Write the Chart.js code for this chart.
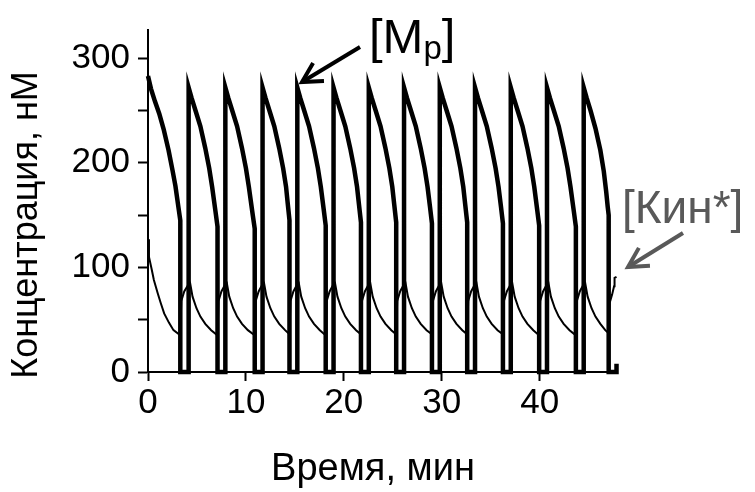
<!DOCTYPE html>
<html>
<head>
<meta charset="utf-8">
<script src="https://cdn.jsdelivr.net/npm/chart.js@4.4.1/dist/chart.umd.min.js"></script>
<style>
  html, body { margin: 0; padding: 0; background: #fff; }
  #wrap { width: 755px; height: 492px; }
</style>
</head>
<body>
<div id="wrap"><canvas id="chart" width="755" height="492"></canvas></div>
<script>
// [Mp] — thick sawtooth, time in minutes, concentration in nM
const mpTime = [
  0, 0.3, 0.7, 1.15, 1.6, 2.1, 2.5, 2.8, 3.1, 3.3, 3.3, 4.15,
  4.15, 4.45, 4.85, 5.35, 5.85, 6.25, 6.55, 6.9, 7.1, 7.1, 7.9,
  7.9, 8.2, 8.6, 9.1, 9.6, 10.0, 10.3, 10.7, 10.9, 10.9, 11.7,
  11.7, 12.0, 12.4, 12.9, 13.4, 13.8, 14.1, 14.25, 14.45, 14.45, 15.25,
  15.25, 15.55, 15.95, 16.45, 16.95, 17.35, 17.65, 17.95, 18.15, 18.15, 18.95,
  18.95, 19.25, 19.65, 20.15, 20.65, 21.05, 21.35, 21.55, 21.75, 21.75, 22.55,
  22.55, 22.85, 23.25, 23.75, 24.25, 24.65, 24.95, 25.15, 25.35, 25.35, 26.15,
  26.15, 26.45, 26.85, 27.35, 27.85, 28.25, 28.55, 28.8, 29.0, 29.0, 29.8,
  29.8, 30.1, 30.5, 31.0, 31.5, 31.9, 32.2, 32.4, 32.6, 32.6, 33.4,
  33.4, 33.7, 34.1, 34.6, 35.1, 35.5, 35.8, 36.05, 36.25, 36.25, 37.05,
  37.05, 37.35, 37.75, 38.25, 38.75, 39.15, 39.45, 39.75, 39.95, 39.95, 40.75,
  40.75, 41.05, 41.45, 41.95, 42.45, 42.85, 43.15, 43.5, 43.7, 43.7, 44.5,
  44.5, 44.8, 45.2, 45.7, 46.2, 46.55, 46.8, 46.95, 47.05, 47.05, 47.8, 47.85
];
const mpConc = [
  283, 271, 259, 247, 232, 212, 193, 178, 158, 145, 0, 0,
  272, 262, 250, 235, 214, 195, 177, 153, 139, 0, 0,
  272, 262, 250, 235, 214, 195, 177, 150, 137, 0, 0,
  272, 262, 250, 235, 214, 195, 177, 163, 145, 0, 0,
  272, 262, 250, 235, 214, 195, 177, 155, 140, 0, 0,
  272, 262, 250, 235, 214, 195, 177, 160, 143, 0, 0,
  272, 262, 250, 235, 214, 195, 177, 160, 143, 0, 0,
  272, 262, 250, 235, 214, 195, 177, 158, 142, 0, 0,
  272, 262, 250, 235, 214, 195, 177, 160, 143, 0, 0,
  272, 262, 250, 235, 214, 195, 177, 158, 142, 0, 0,
  272, 262, 250, 235, 214, 195, 177, 155, 140, 0, 0,
  272, 262, 250, 235, 214, 195, 177, 153, 139, 0, 0,
  272, 262, 250, 233, 212, 192, 172, 158, 150, 0, 0, 8
];

// [Кин*] — thin line
const kinTime = [
  0, 0.1, 0.38, 0.6, 1.0, 1.3, 1.65, 2.15, 2.6, 3.3,
  3.4, 3.7, 4.15, 4.3, 4.55, 4.95, 5.35, 5.85, 6.45, 7.1,
  7.2, 7.5, 7.9, 8.05, 8.3, 8.7, 9.1, 9.6, 10.2, 10.9,
  11.0, 11.3, 11.7, 11.85, 12.1, 12.5, 12.9, 13.4, 14.0, 14.45,
  14.55, 14.85, 15.25, 15.4, 15.65, 16.05, 16.45, 16.95, 17.55, 18.15,
  18.25, 18.55, 18.95, 19.1, 19.35, 19.75, 20.15, 20.65, 21.25, 21.75,
  21.85, 22.15, 22.55, 22.7, 22.95, 23.35, 23.75, 24.25, 24.85, 25.35,
  25.45, 25.75, 26.15, 26.3, 26.55, 26.95, 27.35, 27.85, 28.45, 29.0,
  29.1, 29.4, 29.8, 29.95, 30.2, 30.6, 31.0, 31.5, 32.1, 32.6,
  32.7, 33.0, 33.4, 33.55, 33.8, 34.2, 34.6, 35.1, 35.7, 36.25,
  36.35, 36.65, 37.05, 37.2, 37.45, 37.85, 38.25, 38.75, 39.35, 39.95,
  40.05, 40.35, 40.75, 40.9, 41.15, 41.55, 41.95, 42.45, 43.05, 43.7,
  43.8, 44.1, 44.5, 44.65, 44.9, 45.3, 45.7, 46.2, 46.7, 47.05,
  47.15, 47.4, 47.6, 47.65, 47.85
];
const kinConc = [
  127, 110, 98, 88, 75, 66, 56, 47, 40, 35,
  68, 77, 84, 85, 72, 61, 53, 46, 40, 35,
  68, 77, 84, 85, 72, 61, 53, 46, 40, 35,
  68, 77, 84, 85, 72, 61, 53, 46, 40, 36,
  68, 77, 84, 85, 72, 61, 53, 46, 40, 35,
  68, 77, 84, 85, 72, 61, 53, 46, 40, 36,
  68, 77, 84, 85, 72, 61, 53, 46, 40, 36,
  68, 77, 84, 85, 72, 61, 53, 46, 40, 36,
  68, 77, 84, 85, 72, 61, 53, 46, 40, 36,
  68, 77, 84, 85, 72, 61, 53, 46, 40, 36,
  68, 77, 84, 85, 72, 61, 53, 46, 40, 35,
  68, 77, 84, 85, 72, 61, 53, 46, 40, 35,
  68, 77, 84, 85, 72, 61, 53, 46, 40, 37,
  66, 74, 82, 90, 91
];

const xTicks = [0, 10, 20, 30, 40];
const yTicks = [0, 50, 100, 150, 200, 250, 300];
const yLabeled = [0, 100, 200, 300];

const xTitle = "Время, мин";
const yTitle = "Концентрация, нМ";
const mpLabel = ["[M", "p", "]"];
const kinLabel = "[Кин*]";

const tickFont = { family: "'Liberation Sans', Arial, sans-serif", size: 35 };

function arrow(ctx, x1, y1, x2, y2, color, head) {
  const a = Math.atan2(y2 - y1, x2 - x1);
  ctx.save();
  ctx.strokeStyle = color;
  ctx.lineWidth = 4;
  ctx.lineCap = "butt";
  ctx.lineJoin = "miter";
  ctx.beginPath();
  ctx.moveTo(x1, y1);
  ctx.lineTo(x2, y2);
  ctx.stroke();
  ctx.beginPath();
  ctx.moveTo(x2 - head * Math.cos(a - 0.5), y2 - head * Math.sin(a - 0.5));
  ctx.lineTo(x2, y2);
  ctx.lineTo(x2 - head * Math.cos(a + 0.5), y2 - head * Math.sin(a + 0.5));
  ctx.stroke();
  ctx.restore();
}

const labelsPlugin = {
  id: "labels",
  afterDraw(chart) {
    const ctx = chart.ctx;
    ctx.save();
    ctx.fillStyle = "#000";
    ctx.textBaseline = "alphabetic";

    // axis titles
    ctx.font = "38px 'Liberation Sans', Arial, sans-serif";
    ctx.textAlign = "center";
    ctx.fillText(xTitle, 373, 480);

    ctx.save();
    ctx.translate(37, 225);
    ctx.rotate(-Math.PI / 2);
    ctx.font = "36px 'Liberation Sans', Arial, sans-serif";
    ctx.fillText(yTitle, 0, 0);
    ctx.restore();

    // [Mp] annotation
    ctx.textAlign = "left";
    let x = 369;
    ctx.font = "49px 'Liberation Sans', Arial, sans-serif";
    ctx.fillText(mpLabel[0], x, 53);
    x += ctx.measureText(mpLabel[0]).width;
    ctx.font = "33px 'Liberation Sans', Arial, sans-serif";
    ctx.fillText(mpLabel[1], x, 59);
    x += ctx.measureText(mpLabel[1]).width;
    ctx.font = "49px 'Liberation Sans', Arial, sans-serif";
    ctx.fillText(mpLabel[2], x, 53);
    arrow(ctx, 360, 47, 302, 82, "#000", 22);

    // [Кин*] annotation
    ctx.fillStyle = "#595959";
    ctx.font = "46px 'Liberation Sans', Arial, sans-serif";
    ctx.fillText(kinLabel, 622, 223);
    arrow(ctx, 683, 233, 628, 267, "#595959", 22);
    ctx.restore();
  }
};

new Chart(document.getElementById("chart"), {
  type: "line",
  data: {
    datasets: [
      {
        label: "[Mp]",
        data: mpTime.map((t, i) => ({ x: t, y: mpConc[i] })),
        borderColor: "#000",
        borderWidth: 4.5,
        pointRadius: 0,
        tension: 0,
        fill: false,
        clip: 4,
      },
      {
        label: "[Кин*]",
        data: kinTime.map((t, i) => ({ x: t, y: kinConc[i] })),
        borderColor: "#000",
        borderWidth: 2,
        pointRadius: 0,
        tension: 0,
        fill: false,
        clip: 4,
      },
    ],
  },
  options: {
    responsive: false,
    animation: false,
    devicePixelRatio: 1,
    layout: { padding: { left: 0, right: 138, top: 30, bottom: 0 } },
    plugins: { legend: { display: false }, tooltip: { enabled: false } },
    scales: {
      x: {
        type: "linear",
        min: 0,
        max: 47.9,
        afterBuildTicks: (axis) => { axis.ticks = xTicks.map((v) => ({ value: v })); },
        afterFit: (scale) => { scale.height = 120; },
        grid: { display: true, drawOnChartArea: false, drawTicks: true, tickLength: 9, tickWidth: 2, tickColor: "#000" },
        border: { display: true, color: "#000", width: 2 },
        ticks: { color: "#000", font: tickFont, padding: 1, maxRotation: 0, autoSkip: false },
      },
      y: {
        type: "linear",
        min: 0,
        max: 327,
        afterBuildTicks: (axis) => { axis.ticks = yTicks.map((v) => ({ value: v })); },
        afterFit: (scale) => { scale.width = 148; },
        grid: { display: true, drawOnChartArea: false, drawTicks: true, tickLength: 10, tickWidth: 2, tickColor: "#000" },
        border: { display: true, color: "#000", width: 2 },
        ticks: {
          color: "#000",
          font: tickFont,
          padding: 8,
          autoSkip: false,
          callback: (v) => (yLabeled.includes(v) ? String(v) : ""),
        },
      },
    },
  },
  plugins: [labelsPlugin],
});
</script>
</body>
</html>
